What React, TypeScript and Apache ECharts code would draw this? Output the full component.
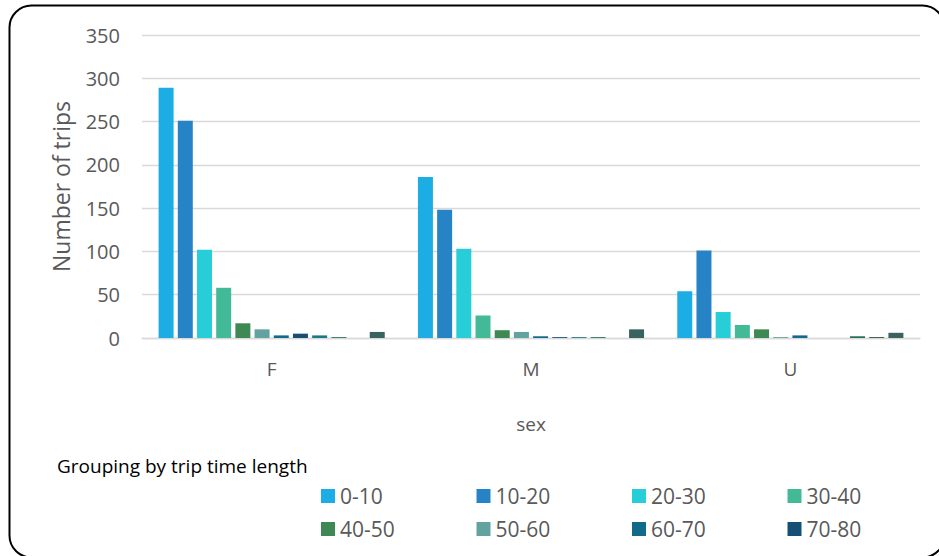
import React, { useEffect, useRef } from "react";
import * as echarts from "echarts";

const categories = ["F", "M", "U"];
const seriesNames = [
  "0-10", "10-20", "20-30", "30-40", "40-50", "50-60",
  "60-70", "70-80", "80-90", "90-100", "100-110", "110-120",
];
// values per series, in category order F, M, U
const s0_10 = [289, 186, 54];
const s10_20 = [251, 148, 101];
const s20_30 = [102, 103, 30];
const s30_40 = [58, 26, 15];
const s40_50 = [17, 9, 10];
const s50_60 = [10, 7, 1];
const s60_70 = [3, 2, 3];
const s70_80 = [5, 1, 0];
const s80_90 = [3, 1, 0];
const s90_100 = [1, 1, 2];
const s100_110 = [0, 0, 1];
const s110_120 = [7, 10, 6];
const seriesValues = [
  s0_10, s10_20, s20_30, s30_40, s40_50, s50_60,
  s60_70, s70_80, s80_90, s90_100, s100_110, s110_120,
];
const colors = [
  "#1CADE4", "#2683C6", "#27CED7", "#42BA97", "#3E8853", "#62A39F",
  "#106A8A", "#174E76", "#177B81", "#27705A", "#255232", "#3A625F",
];
const yTicks = { min: 0, max: 350, interval: 50 };
const legendCount = 8;

const FONT = "'Open Sans', sans-serif";

export default function App() {
  const ref = useRef<HTMLDivElement>(null);
  useEffect(() => {
    if (!ref.current) return;
    const chart = echarts.init(ref.current, null, { renderer: "svg" });
    const legends = seriesNames.slice(0, legendCount).map((n, i) => ({
      data: [n],
      left: 321 + (i % 4) * 155.5,
      top: i < 4 ? 485 : 518,
      padding: 0,
      itemGap: 0,
      itemWidth: 14,
      itemHeight: 14,
      icon: "rect",
      selectedMode: false,
      textStyle: { fontSize: 21, color: "#595959", fontFamily: FONT, lineHeight: 22 },
    }));
    chart.setOption({
      animation: false,
      backgroundColor: "#ffffff",
      color: colors,
      textStyle: { fontFamily: FONT },
      grid: { left: 142, top: 35, width: 778, height: 303, containLabel: false, outerBoundsMode: "none" },
      legend: legends,
      graphic: [
        {
          type: "rect",
          shape: { x: 9.5, y: 5.5, width: 935, height: 552, r: 22 },
          style: { fill: "none", stroke: "#000000", lineWidth: 2 },
          silent: true,
          z: 100,
        },
        {
          type: "text",
          left: 57,
          top: 456,
          style: { text: "Grouping by trip time length", fontSize: 19, fill: "#000000", fontFamily: FONT },
        },
      ],
      xAxis: {
        type: "category",
        data: categories,
        axisLine: { show: true, lineStyle: { color: "#d9d9d9", width: 1.3 } },
        axisTick: { show: false },
        axisLabel: { fontSize: 19, color: "#595959", margin: 21, fontFamily: FONT },
        name: "sex",
        nameLocation: "middle",
        nameGap: 76,
        nameTextStyle: { fontSize: 19, color: "#595959", fontFamily: FONT },
      },
      yAxis: {
        type: "value",
        min: yTicks.min,
        max: yTicks.max,
        interval: yTicks.interval,
        axisLine: { show: false },
        axisTick: { show: false },
        splitLine: { lineStyle: { color: "#d9d9d9", width: 1.3 } },
        axisLabel: { fontSize: 20, color: "#595959", margin: 22, fontFamily: FONT },
        name: "Number of trips",
        nameLocation: "middle",
        nameGap: 70,
        nameTextStyle: { fontSize: 23, color: "#595959", fontFamily: FONT },
      },
      series: seriesNames.map((n, i) => ({
        name: n,
        type: "bar",
        data: seriesValues[i],
        barCategoryGap: "12.8%",
        barGap: "28%",
        itemStyle: { color: colors[i] },
      })),
    });
    return () => chart.dispose();
  }, []);
  return (
    <div
      ref={ref}
      style={{ position: "absolute", left: 0, top: 0, width: 939, height: 556, background: "#fff" }}
    />
  );
}
